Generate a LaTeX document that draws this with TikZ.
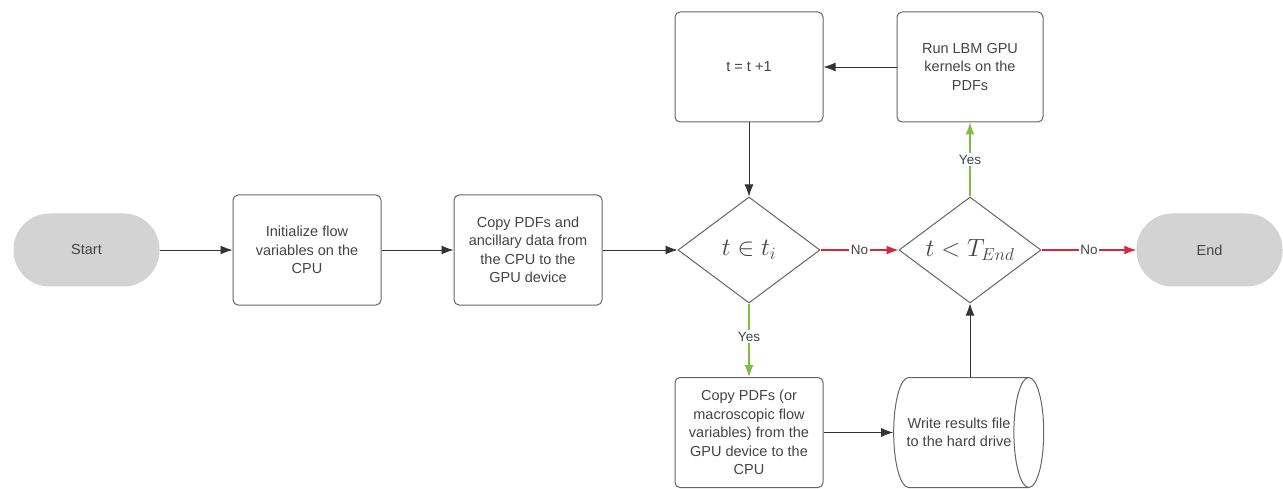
\documentclass[tikz,border=0pt]{standalone}
\usepackage{fontspec}
\setmainfont{Liberation Sans}
\usetikzlibrary{shapes.geometric,arrows.meta}
\definecolor{linegray}{HTML}{666666}
\definecolor{textgray}{HTML}{444444}
\definecolor{pillgray}{HTML}{D3D3D3}
\definecolor{noRed}{HTML}{D4293C}
\definecolor{yesGreen}{HTML}{7DBE42}
\tikzset{
  every node/.style={text=textgray, font=\fontsize{14.5}{18.5}\selectfont},
  procbox/.style={draw=linegray, line width=1pt, rounded corners=5pt, fill=white,
    minimum width=148pt, minimum height=110pt, align=center, inner sep=2pt},
  terminal/.style={fill=pillgray, rounded corners=36pt, minimum width=146pt,
    minimum height=73pt, align=center},
  decision/.style={diamond, draw=linegray, line width=1pt, fill=white,
    minimum width=142pt, minimum height=106pt, aspect=1.34, inner sep=0pt},
  store/.style={cylinder, draw=linegray, line width=1pt, fill=white,
    minimum width=110pt, minimum height=150pt, aspect=0.9, align=center, inner sep=2pt},
  flow/.style={draw=black!80, line width=0.9pt, -{Latex[length=12pt,width=9pt]}},
  noflow/.style={draw=noRed, line width=1.1pt, -{Latex[length=12pt,width=9pt]}},
  yesflow/.style={draw=yesGreen, line width=1.1pt, -{Latex[length=12pt,width=9pt]}},
  tag/.style={fill=white, inner sep=1.5pt, font=\fontsize{13.5}{15}\selectfont}
}
\begin{document}
\begin{tikzpicture}[x=1pt,y=-1pt]
  \useasboundingbox (0,0) rectangle (1283,489);

  % terminals
  \node[terminal] (start) at (86.5,250) {Start};
  \node[terminal] (end) at (1209.5,250) {End};

  % main row
  \node[procbox] (init) at (307,250) {Initialize flow\\variables on the\\CPU};
  \node[procbox] (copyin) at (528,250) {Copy PDFs and\\ancillary data from\\the CPU to the\\GPU device};
  \node[decision] (inset) at (749,250) {\fontsize{25}{26}\selectfont$t \in t_i$};
  \node[decision] (tend) at (970,250) {\fontsize{24}{26}\selectfont$t < T_{End}$};

  % top row
  \node[procbox] (incr) at (749,67) {t = t +1};
  \node[procbox, minimum width=146pt] (kernels) at (970,67) {Run LBM GPU\\kernels on the\\PDFs};

  % bottom row
  \node[procbox] (copyout) at (749,432.5) {Copy PDFs (or\\macroscopic flow\\variables) from the\\GPU device to the\\CPU};
  \node[store, shape border rotate=0] (write) at (959,432.5) {Write results file\\to the hard drive};

  % connectors
  \draw[flow] (start) -- (init);
  \draw[flow] (init) -- (copyin);
  \draw[flow] (copyin) -- (inset);
  \draw[noflow] (inset) -- node[tag]{No} (tend);
  \draw[noflow] (tend) -- node[tag]{No} (end);
  \draw[yesflow] (inset) -- node[tag, pos=0.45]{Yes} (copyout);
  \draw[flow] (copyout) -- (write);
  \draw[flow] (write.north -| tend.south) -- (tend.south);
  \draw[yesflow] (tend) -- node[tag]{Yes} (kernels);
  \draw[flow] (kernels) -- (incr);
  \draw[flow] (incr) -- (inset);
\end{tikzpicture}
\end{document}
